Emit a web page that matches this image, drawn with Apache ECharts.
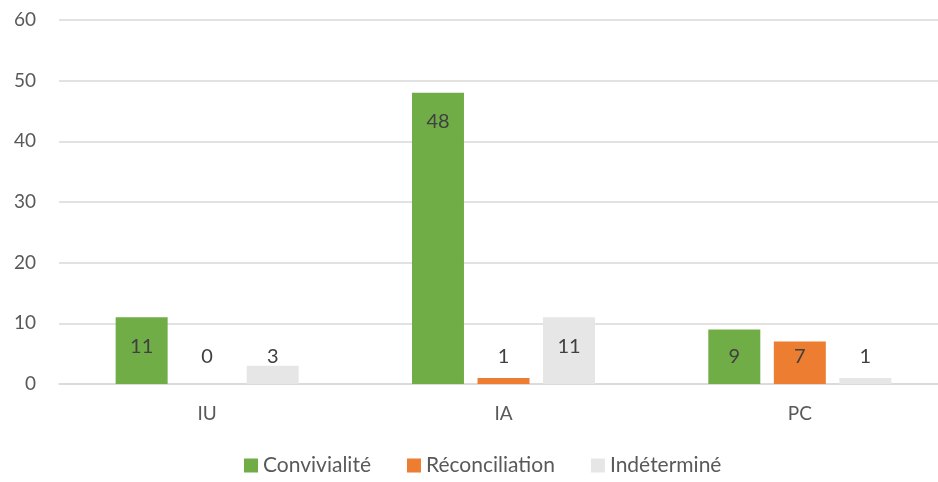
<!DOCTYPE html>
<html>
<head>
<meta charset="utf-8">
<script src="https://cdn.jsdelivr.net/npm/echarts@6/dist/echarts.min.js"></script>
<style>
  html, body { margin: 0; padding: 0; background: #fff; }
  #chart { width: 938px; height: 482px; }
</style>
</head>
<body>
<div id="chart"></div>
<script>
const categories = ["IU", "IA", "PC"];
const convivialite = [11, 48, 9];
const reconciliation = [0, 1, 7];
const indetermine = [3, 11, 1];

const FONT = "Lato";

// Excel-style "inside end" labels; short bars get the label lifted above the baseline
function items(values) {
  return values.map(v => ({
    value: v,
    label: v > 9
      ? { position: "insideTop", distance: 19 }
      : { position: "insideBottom", distance: 17 }
  }));
}

function bar(name, values, color) {
  return {
    name: name,
    type: "bar",
    data: items(values),
    barWidth: 52,
    barGap: "26%",
    itemStyle: { color: color },
    label: {
      show: true,
      color: "#404040",
      fontSize: 20,
      fontFamily: FONT
    }
  };
}

const chart = echarts.init(document.getElementById("chart"), null, { renderer: "canvas" });

chart.setOption({
  animation: false,
  // plot area runs past the right edge of the picture (it was cropped)
  grid: { left: 59, width: 889, top: 20, bottom: 98, outerBoundsMode: "none", containLabel: false },
  legend: {
    bottom: 1,
    left: 239,
    itemWidth: 14,
    itemHeight: 14,
    itemGap: 36,
    icon: "rect",
    textStyle: { color: "#595959", fontSize: 21, fontFamily: FONT }
  },
  xAxis: {
    type: "category",
    data: categories,
    axisLine: { lineStyle: { color: "#d9d9d9", width: 1.5 } },
    axisTick: { show: false },
    axisLabel: { color: "#595959", fontSize: 19, fontFamily: FONT, margin: 20 }
  },
  yAxis: {
    type: "value",
    min: 0,
    max: 60,
    interval: 10,
    axisLine: { show: false },
    axisTick: { show: false },
    axisLabel: { color: "#595959", fontSize: 19, fontFamily: FONT, margin: 23 },
    splitLine: { lineStyle: { color: "#d9d9d9", width: 1.5 } }
  },
  series: [
    bar("Convivialité", convivialite, "#70AD47"),
    bar("Réconciliation", reconciliation, "#ED7D31"),
    bar("Indéterminé", indetermine, "#E7E6E6")
  ]
});
</script>
</body>
</html>
